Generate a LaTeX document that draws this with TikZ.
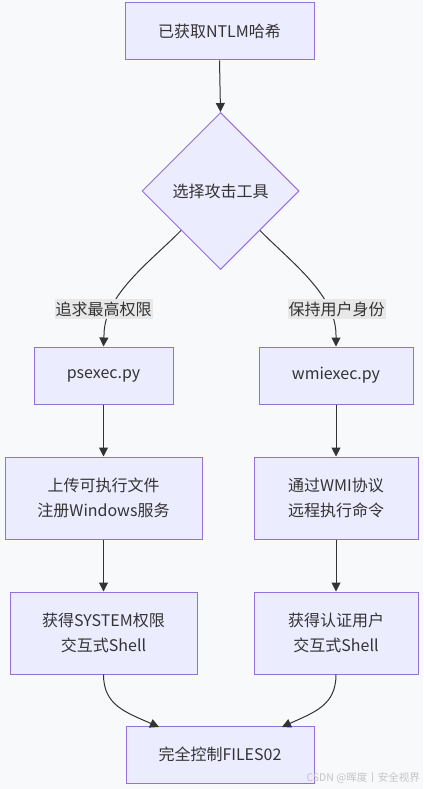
\documentclass[tikz,border=0pt]{standalone}
\usepackage{fontspec}
\setmainfont{Noto Sans CJK SC}
\usetikzlibrary{shapes.geometric,arrows.meta}
\definecolor{bgc}{HTML}{F8F9FA}
\definecolor{nfill}{HTML}{ECECFF}
\definecolor{nstroke}{HTML}{9370DB}
\definecolor{ink}{HTML}{333333}
\definecolor{lblbg}{HTML}{E8E8E8}
\definecolor{wm}{HTML}{C4C4C4}
\tikzset{
  box/.style={draw=nstroke, fill=nfill, line width=1pt, inner sep=0pt, text=ink,
    align=center, font=\fontsize{16}{25}\selectfont},
  dia/.style={diamond, aspect=1, draw=nstroke, fill=nfill, line width=1pt, inner sep=0pt,
    minimum width=157pt, minimum height=157pt, text=ink, font=\fontsize{16}{25}\selectfont},
  lbl/.style={fill=lblbg, inner xsep=1pt, inner ysep=3pt, text=ink, font=\fontsize{16}{20}\selectfont},
  arr/.style={draw=ink, line width=1pt, -{Triangle[length=9pt,width=9pt]}},
}
\begin{document}
\begin{tikzpicture}[x=1pt,y=-1pt]
\fill[bgc] (0,0) rectangle (423,789);
\useasboundingbox (0,0) rectangle (423,789);

\node[box, minimum width=189pt, minimum height=57pt] (ntlm) at (219.5,31.5) {已获取NTLM哈希};
\node[dia] (sel) at (220.5,191) {选择攻击工具};
\node[box, minimum width=139pt, minimum height=57pt] (ps) at (103.5,375.5) {psexec.py};
\node[box, minimum width=154pt, minimum height=57pt] (wmi) at (336,375.5) {wmiexec.py};
\node[box, minimum width=197pt, minimum height=82pt] (up) at (103.5,498) {上传可执行文件\\注册Windows服务};
\node[box, minimum width=164pt, minimum height=82pt] (wmip) at (336,498) {通过WMI协议\\远程执行命令};
\node[box, minimum width=187pt, minimum height=82pt] (sys) at (103.5,633) {获得SYSTEM权限\\交互式Shell};
\node[box, minimum width=164pt, minimum height=82pt] (auth) at (336,633) {获得认证用户\\交互式Shell};
\node[box, minimum width=188pt, minimum height=57pt] (fin) at (220,754.5) {完全控制FILES02};

\draw[arr] (ntlm.south) -- (sel.north);
\draw[arr] (sel.south west) .. controls (150,262) and (104,295) .. (104,335) -- (ps.north);
\draw[arr] (sel.south east) .. controls (291,262) and (336,295) .. (336,335) -- (wmi.north);
\draw[arr] (ps.south) -- (up.north);
\draw[arr] (wmi.south) -- (wmip.north);
\draw[arr] (up.south) -- (sys.north);
\draw[arr] (wmip.south) -- (auth.north);
\draw[arr] (sys.south) .. controls (103.5,705) and (125,712) .. (159,727);
\draw[arr] (auth.south) .. controls (336,705) and (315,712) .. (282,727);

\node[lbl] (l1) at (103.5,309) {追求最高权限};
\node[lbl] (l2) at (336.5,309) {保持用户身份};

\node[anchor=east, text=wm, font=\fontsize{10.5}{12}\selectfont, inner sep=0pt] (wmk) at (420,778) {CSDN @晖度丨安全视界};
\end{tikzpicture}
\end{document}
